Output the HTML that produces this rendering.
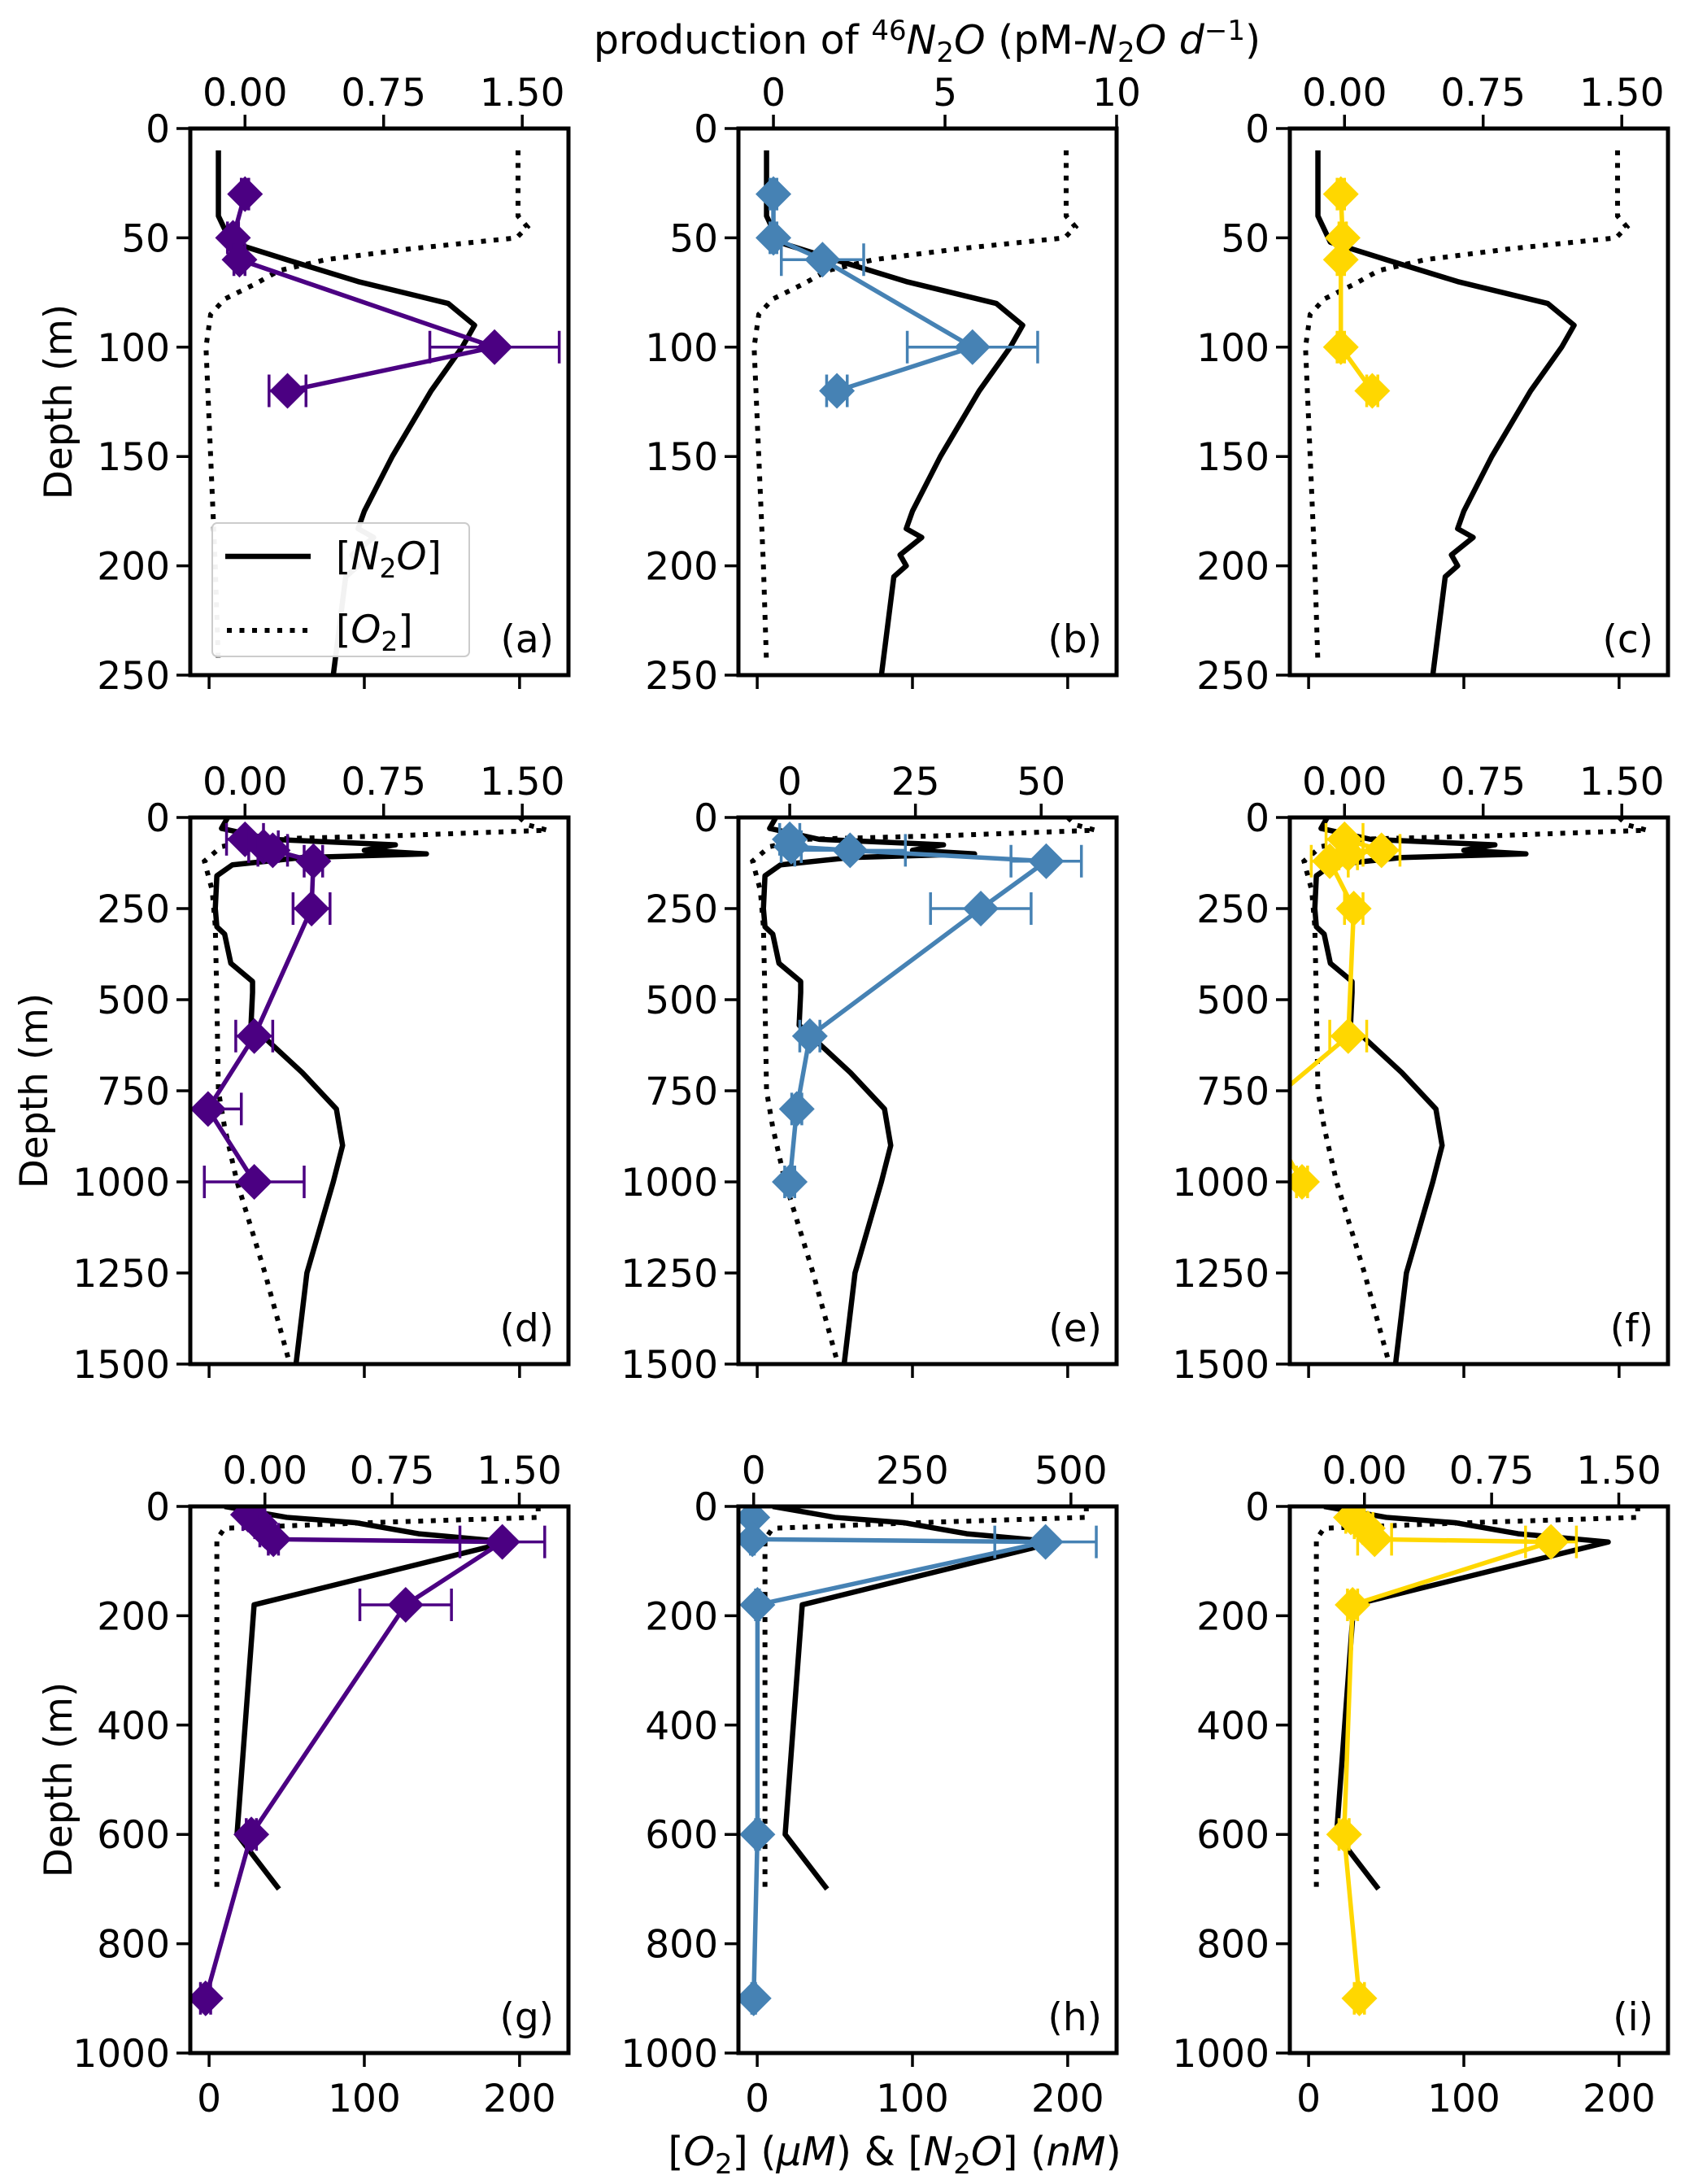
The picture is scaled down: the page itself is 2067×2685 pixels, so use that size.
<!DOCTYPE html>
<html><head><meta charset="utf-8"><style>
html,body{margin:0;padding:0;background:#fff;}
svg{display:block;font-family:"DejaVu Sans","Liberation Sans",sans-serif;}
</style></head><body>
<svg id="fig" width="2067" height="2685" viewBox="0 0 2067 2685" xmlns="http://www.w3.org/2000/svg">
<text x="1140" y="66" font-size="49" text-anchor="middle">production of <tspan dy="-17" font-size="34">46</tspan><tspan dy="17" font-style="italic">N</tspan><tspan dy="10" font-size="34">2</tspan><tspan dy="-10" font-style="italic">O</tspan> (pM-<tspan font-style="italic">N</tspan><tspan dy="10" font-size="34">2</tspan><tspan dy="-10" font-style="italic">O d</tspan><tspan dy="-17" font-size="34">−1</tspan><tspan dy="17">)</tspan></text>
<text x="1100" y="2662" font-size="49" text-anchor="middle">[<tspan font-style="italic">O</tspan><tspan dy="10" font-size="34">2</tspan><tspan dy="-10">] (</tspan><tspan font-style="italic">μM</tspan>) &amp; [<tspan font-style="italic">N</tspan><tspan dy="10" font-size="34">2</tspan><tspan dy="-10" font-style="italic">O</tspan>] (<tspan font-style="italic">nM</tspan>)</text>
</svg>
<script>
// ---- data ----
const n2oRow1 = [[10,6],[40,6],[52,14],[60,50],[70,96],[80,154],[90,171],[100,163],[120,143],[150,118],[175,100],[183,96],[187,106],[195,92],[200,96],[205,88],[250,80]];
const o2Row1 = [[10,199],[40,199],[45,205],[50,198],[55,130],[60,75],[65,45],[71,30],[78,10],[85,1],[100,-2],[150,1],[200,4],[245,6]];
const n2oRow2 = [[0,12],[30,8],[60,40],[75,120],[90,100],[100,140],[110,60],[130,15],[160,5],[250,4],[300,5],[320,10],[400,14],[450,28],[480,28],[570,27],[700,60],[800,82],[900,86],[1000,80],[1250,63],[1500,56]];
const o2Row2 = [[0,200],[20,205],[35,218],[50,120],[60,30],[80,8],[120,-3],[200,2],[300,4],[500,5],[750,6],[850,10],[1000,18],[1250,36],[1500,52]];
const n2oRow3 = [[0,10],[10,30],[20,50],[30,95],[50,135],[65,193],[180,29],[600,18],[700,45]];
const o2Row3 = [[0,212],[20,212],[30,100],[40,10],[60,5],[700,5]];
// production: [depth, value, xerr]
const prodA = [[30,0.0,0.02],[50,-0.065,0.03],[60,-0.03,0.03],[100,1.35,0.35],[120,0.23,0.1]];
const prodB = [[30,0,0.1],[50,0,0.1],[60,1.43,1.2],[100,5.8,1.9],[120,1.85,0.3]];
const prodC = [[30,-0.02,0.02],[50,-0.01,0.02],[60,-0.02,0.02],[100,-0.02,0.02],[120,0.15,0.03]];
const prodD = [[60,0.0,0.1],[80,0.1,0.08],[90,0.15,0.08],[120,0.37,0.05],[250,0.36,0.1],[600,0.05,0.1],[800,-0.2,0.18],[1000,0.05,0.27]];
const prodE = [[60,0,2],[80,0.3,2],[90,12,11],[120,51,7],[250,38,10],[600,4,2],[800,1.4,1],[1000,0,1]];
const prodF = [[60,0,0.1],[90,0.2,0.1],[100,0.02,0.05],[120,-0.08,0.1],[250,0.05,0.05],[600,0.02,0.1],[800,-0.45,0.03],[1000,-0.23,0.03]];
const prodG = [[15,-0.1,0.03],[30,-0.03,0.03],[45,0.0,0.03],[60,0.05,0.03],[65,1.4,0.25],[180,0.83,0.27],[600,-0.08,0.03],[900,-0.35,0.03]];
const prodH = [[20,-2,3],[60,-2,3],[65,460,80],[180,6,3],[600,6,3],[900,0,3]];
const prodI = [[20,-0.08,0.03],[30,-0.03,0.03],[40,0.02,0.03],[60,0.06,0.1],[65,1.1,0.15],[180,-0.07,0.03],[600,-0.12,0.03],[900,-0.03,0.03]];
const depthTicks1 = [0,50,100,150,200,250];
const depthTicks2 = [0,250,500,750,1000,1250,1500];
const depthTicks3 = [0,200,400,600,800,1000];
const topTicksStd = [0,0.75,1.5];
const topLabelsStd = ["0.00","0.75","1.50"];
const topTicksB = [0,5,10];
const topTicksE = [0,25,50];
const topTicksH = [0,250,500];
const bottomTicks = [0,100,200];

const NS="http://www.w3.org/2000/svg";
const svg=document.getElementById('fig');
function mk(tag,attrs,parent){const e=document.createElementNS(NS,tag);for(const k in attrs)e.setAttribute(k,attrs[k]);(parent||svg).appendChild(e);return e;}

const colX=[234,908,1586], rowY=[158,1005,1852], W=465, H=672;
const purple="#4b0082", blue="#4682b4", gold="#ffd700";
const FS=47;
const panels=[
 {id:'a',r:0,c:0,dep:[0,250],top:[-0.296,1.75],tt:topTicksStd,tl:topLabelsStd,n2o:n2oRow1,o2:o2Row1,prod:prodA,col:purple,dt:depthTicks1},
 {id:'b',r:0,c:1,dep:[0,250],top:[-1.02,10],tt:topTicksB,tl:["0","5","10"],n2o:n2oRow1,o2:o2Row1,prod:prodB,col:blue,dt:depthTicks1},
 {id:'c',r:0,c:2,dep:[0,250],top:[-0.296,1.75],tt:topTicksStd,tl:topLabelsStd,n2o:n2oRow1,o2:o2Row1,prod:prodC,col:gold,dt:depthTicks1},
 {id:'d',r:1,c:0,dep:[0,1500],top:[-0.296,1.75],tt:topTicksStd,tl:topLabelsStd,n2o:n2oRow2,o2:o2Row2,prod:prodD,col:purple,dt:depthTicks2},
 {id:'e',r:1,c:1,dep:[0,1500],top:[-10.2,65],tt:topTicksE,tl:["0","25","50"],n2o:n2oRow2,o2:o2Row2,prod:prodE,col:blue,dt:depthTicks2},
 {id:'f',r:1,c:2,dep:[0,1500],top:[-0.296,1.75],tt:topTicksStd,tl:topLabelsStd,n2o:n2oRow2,o2:o2Row2,prod:prodF,col:gold,dt:depthTicks2},
 {id:'g',r:2,c:0,dep:[0,1000],top:[-0.44,1.79],tt:topTicksStd,tl:topLabelsStd,n2o:n2oRow3,o2:o2Row3,prod:prodG,col:purple,dt:depthTicks3},
 {id:'h',r:2,c:1,dep:[0,1000],top:[-24,572],tt:topTicksH,tl:["0","250","500"],n2o:n2oRow3,o2:o2Row3,prod:prodH,col:blue,dt:depthTicks3},
 {id:'i',r:2,c:2,dep:[0,1000],top:[-0.44,1.79],tt:topTicksStd,tl:topLabelsStd,n2o:n2oRow3,o2:o2Row3,prod:prodI,col:gold,dt:depthTicks3},
];
const bot=[-12.1,231.5];
const yTitleX=[88,58,88];

panels.forEach(p=>{
  const x0=colX[p.c], y0=rowY[p.r];
  const yS=d=>y0+(d-p.dep[0])/(p.dep[1]-p.dep[0])*H;
  const xB=v=>x0+(v-bot[0])/(bot[1]-bot[0])*W;
  const xT=v=>x0+(v-p.top[0])/(p.top[1]-p.top[0])*W;
  const g=mk('g',{});
  
  
  const cp=mk('clipPath',{id:'clip'+p.id},g);
  mk('rect',{x:x0,y:y0,width:W,height:H},cp);
  const plot=mk('g',{'clip-path':'url(#clip'+p.id+')'},g);
  const o2=mk('polyline',{points:p.o2.map(q=>xB(q[1])+','+yS(q[0])).join(' '),fill:'none',stroke:'#000','stroke-width':6,'stroke-dasharray':'6,9.5'},plot);
  
  
  const n2o=mk('polyline',{points:p.n2o.map(q=>xB(q[1])+','+yS(q[0])).join(' '),fill:'none',stroke:'#000','stroke-width':6.5,'stroke-linejoin':'round'},plot);
  
  
  const pl=mk('polyline',{points:p.prod.map(q=>xT(q[1])+','+yS(q[0])).join(' '),fill:'none',stroke:p.col,'stroke-width':5.5},plot);
  
  
  p.prod.forEach(q=>{
    const cx=xT(q[1]), cy=yS(q[0]), l=xT(q[1]-q[2]), r=xT(q[1]+q[2]);
    const eb=mk('path',{d:`M${l},${cy}H${r}M${l},${cy-20}V${cy+20}M${r},${cy-20}V${cy+20}`,stroke:p.col,'stroke-width':3.5,fill:'none'},plot);
    
    
    const m=mk('path',{d:`M${cx},${cy-22}L${cx+22},${cy}L${cx},${cy+22}L${cx-22},${cy}Z`,fill:p.col},plot);
    
    
  });
  const fr=mk('rect',{x:x0,y:y0,width:W,height:H,fill:'none',stroke:'#000','stroke-width':5},g);
  
  
  p.dt.forEach(d=>{
    const y=yS(d);
    mk('line',{x1:x0-17,x2:x0,y1:y,y2:y,stroke:'#000','stroke-width':3.5},g);
    const t=mk('text',{x:x0-25,y:y+17,'font-size':FS,'text-anchor':'end'},g);
    t.textContent=d;
    
    
  });
  p.tt.forEach((v,i)=>{
    const x=xT(v);
    mk('line',{x1:x,x2:x,y1:y0-17,y2:y0,stroke:'#000','stroke-width':3.5},g);
    const t=mk('text',{x:x,y:y0-28,'font-size':FS,'text-anchor':'middle'},g);
    t.textContent=p.tl[i];
    
    
  });
  bottomTicks.forEach(v=>{
    const x=xB(v);
    mk('line',{x1:x,x2:x,y1:y0+H,y2:y0+H+17,stroke:'#000','stroke-width':3.5},g);
    if(p.r===2){
      const t=mk('text',{x:x,y:y0+H+72,'font-size':FS,'text-anchor':'middle'},g);
      t.textContent=v;
      
      
    }
  });
  const lab=mk('text',{x:x0+W-18,y:y0+H-28,'font-size':FS,'text-anchor':'end'},g);
  lab.textContent='('+p.id+')';
  
  
  if(p.c===0){
    const yl=mk('text',{x:0,y:0,'font-size':FS,'text-anchor':'middle',transform:`translate(${yTitleX[p.r]},${y0+H/2}) rotate(-90)`},g);
    yl.textContent='Depth (m)';
    
    
  }
});
const lg=mk('g',{});


mk('rect',{x:261,y:643,width:316,height:164,rx:6,fill:'#fff','fill-opacity':0.95,stroke:'#ccc','stroke-width':2},lg);
mk('line',{x1:277,x2:382,y1:684,y2:684,stroke:'#000','stroke-width':6.5},lg);
mk('line',{x1:279,x2:382,y1:775,y2:775,stroke:'#000','stroke-width':6,'stroke-dasharray':'6,9.5'},lg);
const l1=mk('text',{x:413,y:700,'font-size':FS},lg);
l1.innerHTML='[<tspan font-style="italic">N</tspan><tspan dy="10" font-size="33">2</tspan><tspan dy="-10" font-style="italic">O</tspan>]';


const l2=mk('text',{x:413,y:790,'font-size':FS},lg);
l2.innerHTML='[<tspan font-style="italic">O</tspan><tspan dy="10" font-size="33">2</tspan><tspan dy="-10">]</tspan>';


</script>
</body></html>
